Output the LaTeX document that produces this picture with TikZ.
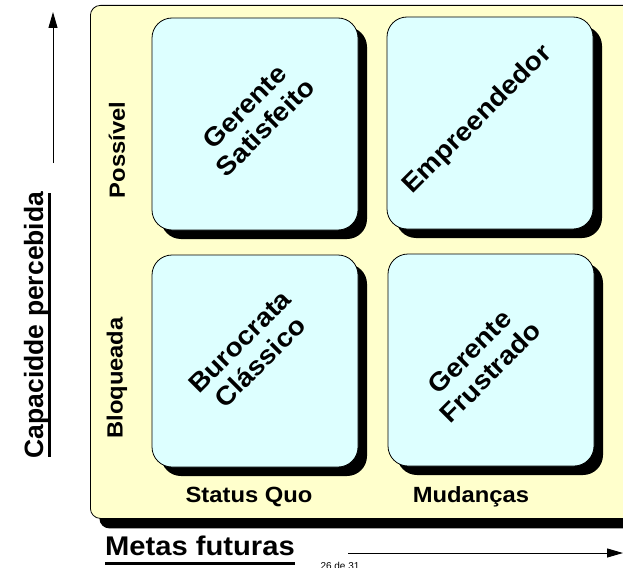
\documentclass[tikz,border=0pt]{standalone}
\usepackage{fontspec}
\setmainfont{Liberation Sans}
\newfontfamily\widesans[FakeStretch=1.08]{Liberation Sans}
\usetikzlibrary{arrows.meta,shadows}
\definecolor{panelfill}{HTML}{FFFFCC}
\definecolor{cellfill}{HTML}{DDFFFF}
\begin{document}
\begin{tikzpicture}[x=1pt,y=-1pt,
  panel/.style={draw=black, line width=0.8pt, fill=panelfill, rounded corners=10pt,
    drop shadow={shadow xshift=9pt, shadow yshift=-10pt, opacity=1, fill=black}},
  quad/.style={draw=black, line width=0.8pt, fill=cellfill, rounded corners=20pt,
    minimum width=206pt, minimum height=212pt, inner sep=0pt,
    drop shadow={shadow xshift=9pt, shadow yshift=-9pt, opacity=1, fill=black}},
  qlabel/.style={font=\widesans\fontsize{26}{29}\selectfont\bfseries, align=center, rotate=45, inner sep=0pt},
  axlabel/.style={font=\widesans\fontsize{22}{26}\selectfont\bfseries, inner sep=0pt},
  title/.style={font=\fontsize{26.5}{32}\selectfont\bfseries, inner sep=0pt},
  axis/.style={line width=1pt, -{Triangle[length=16pt,width=9pt]}}
]
\useasboundingbox (0,0) rectangle (623,567);
\clip (0,0) rectangle (623,567);
\fill[white] (0,0) rectangle (623,567);
% panel
\node[panel, anchor=north west, minimum width=560pt, minimum height=513pt] (panel) at (90,5) {};
% quadrants
\node[quad] (tl) at (255,124) {};
\node[quad] (tr) at (490,123) {};
\node[quad] (bl) at (255,361) {};
\node[quad] (br) at (491,360) {};
\node[qlabel] (tllab) at (255,117) {Gerente\\Satisfeito};
\node[qlabel] (trlab) at (478,120) {Empreendedor};
\node[qlabel] (bllab) at (250,352) {Burocrata\\Clássico};
\node[qlabel] (brlab) at (480,362) {Gerente\\Frustrado};
% row / column labels
\node[axlabel, rotate=90] (poss) at (117,150) {Possível};
\node[axlabel, rotate=90] (bloq) at (117,378) {Bloqueada};
\node[axlabel] (sq) at (249,497) {Status Quo};
\node[axlabel] (mud) at (471,497) {Mudanças};
% axis titles
\node[title, rotate=90, anchor=base] (cap) at (43,325) {Capacidde percebida};
\draw[line width=3pt] (49.5,193) -- (49.5,457);
\node[title, font=\widesans\fontsize{27}{32}\selectfont\bfseries, anchor=base west] (metas) at (105,555) {Metas futuras};
\draw[line width=3pt] (105,563.5) -- (295,563.5);
% arrows
\coordinate (vstart) at (53,163);
\coordinate (vend) at (53,12);
\draw[axis] (vstart) -- (vend);
\coordinate (hstart) at (348,553);
\coordinate (hend) at (623,553);
\draw[axis] (hstart) -- (hend);
\node[font=\fontsize{10}{12}\selectfont, anchor=north, inner sep=0pt] (page) at (340,562) {26 de 31};
\end{tikzpicture}
\end{document}
